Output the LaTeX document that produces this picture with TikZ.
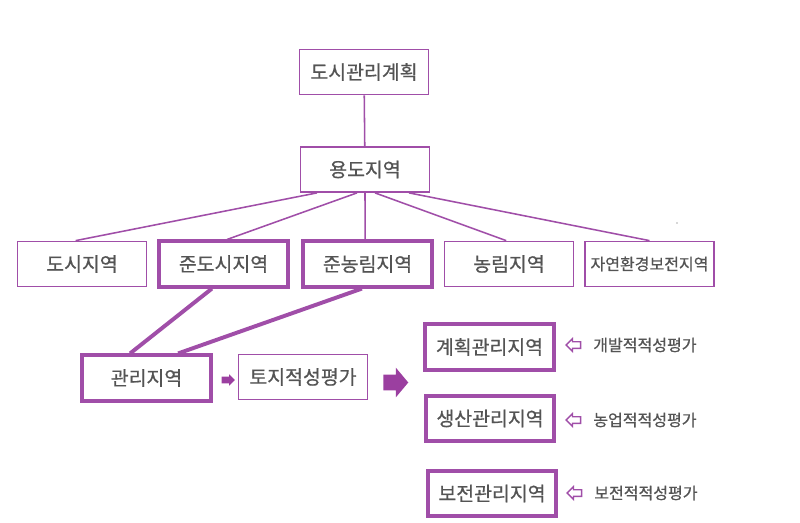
\documentclass[tikz,border=0pt]{standalone}
\usepackage{fontspec}
\setmainfont{Noto Sans CJK KR}[FakeBold=0.7]
\usetikzlibrary{shapes.arrows}
\definecolor{zonepurple}{RGB}{160,78,168}
\definecolor{arrowpurple}{RGB}{155,63,160}
\definecolor{zonetext}{RGB}{84,84,84}

\begin{document}
\begin{tikzpicture}[x=0.025cm, y=-0.025cm,
  zone/.style={draw=zonepurple, line width=1.1pt, text=zonetext, minimum width=3.22cm,
    minimum height=1.13cm, inner sep=0pt, font=\fontsize{13.8}{15}\selectfont},
  zonebold/.style={zone, line width=2.8pt},
  zonesmall/.style={zone, font=\fontsize{11.4}{13}\selectfont},
  link/.style={draw=zonepurple, line width=1.1pt},
  linkbold/.style={draw=zonepurple, line width=2.8pt},
  evalnote/.style={anchor=west, text=zonetext, inner sep=0pt, font=\fontsize{11.4}{13}\selectfont},
  fatarrow/.style={single arrow, fill=arrowpurple, inner xsep=0pt, inner ysep=0.1875cm,
    single arrow head extend=0.175cm, single arrow tip angle=100, minimum height=0.625cm},
  tinyarrow/.style={single arrow, fill=arrowpurple, inner xsep=0pt, inner ysep=0.08cm,
    single arrow head extend=0.055cm, single arrow tip angle=90, minimum height=0.33cm},
  backarrow/.style={single arrow, draw=zonepurple, fill=white, line width=1pt, shape border rotate=180,
    inner xsep=0pt, inner ysep=0.065cm, single arrow head extend=0.075cm, minimum height=0.36cm}
]
\useasboundingbox (0,0) rectangle (800,522);

% plan and use zone
\node[zone] (plan) at (364,72) {도시관리계획};
\node[zone] (use) at (365,169.5) {용도지역};
\draw[link] (plan) -- (use);

% the five zones
\node[zone] (urban) at (82,264) {도시지역};
\node[zonebold] (semiurban) at (223.5,264) {준도시지역};
\node[zonebold] (semifarm) at (367.5,264) {준농림지역};
\node[zone] (farm) at (509,264) {농림지역};
\node[zonesmall] (nature) at (649.5,264) {자연환경보전지역};
\fill[zonetext] (677,223) circle (0.5pt);

\draw[link] ([xshift=-1.2cm]use.south) -- ([xshift=-0.16cm]urban.north);
\draw[link] ([xshift=-0.2cm]use.south) -- ([xshift=0.09cm]semiurban.north);
\draw[link] (use.south) -- ([xshift=-0.06cm]semifarm.north);
\draw[link] ([xshift=0.25cm]use.south) -- ([xshift=-0.07cm]farm.north);
\draw[link] ([xshift=1.1cm]use.south) -- (nature.north);

% management zone
\node[zonebold] (manage) at (146.5,378) {관리지역};
\draw[linkbold] ([xshift=-0.29cm]semiurban.south) -- ([xshift=-0.41cm]manage.north);
\draw[linkbold] ([xshift=-0.14cm]semifarm.south) -- ([xshift=0.79cm]manage.north);

\node[tinyarrow] (step1) at (226.5,380) {};
\node[zone] (suit) at (303,377) {토지적성평가};
\node[fatarrow] (step2) at (392.5,382.5) {};

% three sub zones
\node[zonebold] (planned) at (489.5,347) {계획관리지역};
\node[zonebold] (product) at (490,418.5) {생산관리지역};
\node[zonebold] (conserve) at (492,493.5) {보전관리지역};

\node[backarrow] (back1) at (575,345) {};
\node[backarrow] (back2) at (575,420) {};
\node[backarrow] (back3) at (576,493) {};
\node[evalnote] (eval1) at (593,345) {개발적적성평가};
\node[evalnote] (eval2) at (593,420) {농업적적성평가};
\node[evalnote] (eval3) at (594,493) {보전적적성평가};
\end{tikzpicture}
\end{document}
